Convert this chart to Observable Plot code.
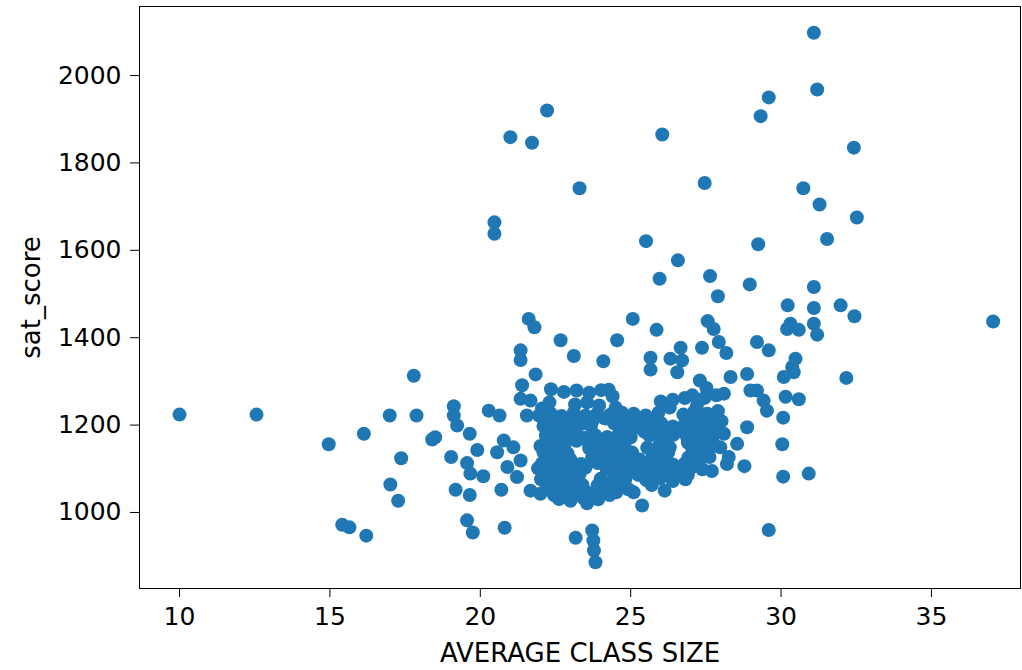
<!DOCTYPE html>
<html><head><meta charset="utf-8">
<script src="https://cdn.jsdelivr.net/npm/d3@7"></script>
<script src="https://cdn.jsdelivr.net/npm/@observablehq/plot@0.6"></script>
<style>body{margin:0;background:#fff}</style>
</head><body><div id="chart"></div><script>
// AVERAGE CLASS SIZE values
const classSize = [
 10.0, 12.56, 14.96, 15.41, 15.65, 16.21, 16.13, 16.99, 17.79, 17.88,
 17.37, 17.01, 17.27, 18.4, 18.5, 21.0, 21.72, 22.22, 20.47, 20.47,
 31.09, 31.2, 29.59, 29.32, 26.05, 32.42, 23.30, 27.46, 30.74, 31.28,
 32.52, 25.51, 29.24, 31.53, 26.57, 25.96, 27.64, 28.96, 31.09, 27.90,
 30.22, 31.09, 31.98, 32.44, 37.05, 30.31, 30.59, 30.2, 31.09, 31.2,
 30.48, 30.37, 30.42, 30.09, 32.17, 30.15, 30.59, 30.07, 30.04, 30.07,
 30.92, 29.59, 28.78, 25.38, 26.13, 25.1, 27.7, 28.2, 23.72, 23.17,
 23.76, 23.78, 23.83, 19.56, 19.75, 20.81, 19.18, 19.65, 20.7, 19.03,
 19.56, 19.67, 20.1, 19.9, 20.56, 23.55, 21.61, 21.8, 22.67, 23.11,
 24.09, 24.55, 21.34, 21.34, 21.84, 21.39, 21.34, 21.67, 21.55, 19.12,
 19.12, 19.23, 20.28, 20.64, 19.65, 24.27, 25.07, 25.86, 27.56, 27.76,
 27.93, 28.18, 27.37, 26.66, 26.32, 26.71, 26.55, 25.66, 25.66, 29.2,
 29.59, 28.87, 28.32, 27.3, 27.52, 28.87, 29.2, 29.42, 29.53, 28.1,
 28.54, 28.1, 28.98, 28.26, 20.78, 21.1, 21.34, 20.9, 21.22, 21.67,
 22.0, 27.98,
 22.35, 22.78, 23.2, 23.62, 24.02, 24.4,
 22.3, 23.15, 23.55, 23.95, 24.5, 22.05,
 26.0, 26.4, 26.8, 27.05, 27.45, 27.85, 27.2,
 21.95, 22.35, 22.7, 23.1, 23.5, 23.88, 24.3, 24.72, 25.1, 25.5, 25.92, 26.75, 27.1, 27.55, 27.9, 26.3,
 22.2, 22.55, 22.95, 23.35, 23.75, 24.15, 24.55, 24.95, 25.35, 25.75, 27.0, 27.4, 27.75,
 22.1, 22.52, 22.9, 23.32, 23.68, 24.45, 24.82, 25.2, 25.62, 26.02, 26.4, 26.8, 27.22, 27.6, 28.02,
 22.3, 22.75, 23.15, 24.65, 25.05, 25.45, 25.85, 26.25, 26.65, 27.05, 27.45, 27.85,
 22.18, 22.6, 23.02, 23.45, 23.82, 24.22, 24.6, 25.0, 25.62, 26.0, 26.42, 26.88, 27.3, 27.72,
 22.35, 22.8, 23.2, 23.6, 24.0, 24.4, 24.8, 26.2, 26.9, 27.25, 27.6,
 22.0, 22.42, 22.8, 23.62, 24.02, 24.4, 24.8, 25.55, 25.95, 26.3, 27.02, 27.42, 27.8,
 22.1, 22.5, 22.9, 23.85, 24.25, 24.65, 25.05, 25.85, 26.25, 27.15, 27.5,
 22.2, 22.62, 23.0, 23.72, 24.1, 24.5, 24.9, 25.3, 25.72, 26.12, 26.92, 27.3, 27.62,
 22.05, 22.45, 22.85, 23.35, 23.9, 24.35, 24.75, 25.15, 25.55, 25.95, 26.4, 26.8, 27.2,
 21.92, 22.3, 22.7, 23.1, 23.5, 24.2, 24.62, 25.02, 25.42, 25.82, 26.2, 26.6, 27.02, 27.38,
 22.15, 22.55, 22.95, 23.3, 24.45, 24.85, 25.25, 25.65, 26.05, 26.45, 26.9,
 22.02, 22.42, 22.8, 23.22, 24.0, 24.4, 24.82, 25.52, 25.98, 26.4, 26.82,
 22.2, 22.6, 23.0, 23.4, 23.9, 24.3, 24.7, 25.7,
 22.3, 22.7, 23.12, 23.5, 24.12, 24.52, 24.92,
 22.45, 22.85, 23.25, 23.7, 24.3,
 22.62, 23.0, 23.42, 23.92
];
// sat_score values (same order)
const satScore = [
 1224, 1224, 1156, 972, 966, 947, 1180, 1222, 1313, 1222,
 1124, 1064, 1027, 1167, 1172, 1859, 1846, 1920, 1664, 1638,
 2098, 1968, 1950, 1907, 1865, 1835, 1742, 1754, 1742, 1705,
 1675, 1621, 1614, 1626, 1577, 1535, 1541, 1522, 1516, 1495,
 1474, 1468, 1474, 1449, 1437, 1432, 1418, 1420, 1432, 1407,
 1352, 1333, 1321, 1310, 1308, 1265, 1259, 1217, 1156, 1082,
 1089, 960, 1106, 1016, 1050, 1046, 1095, 1111, 959, 942,
 936, 913, 886, 982, 954, 965, 1052, 1040, 1052, 1127,
 1113, 1089, 1083, 1143, 1138, 1021, 1443, 1424, 1394, 1358,
 1346, 1394, 1371, 1349, 1316, 1291, 1260, 1256, 1222, 1243,
 1222, 1199, 1233, 1222, 1180, 1281, 1443, 1418, 1438, 1420,
 1390, 1365, 1377, 1377, 1352, 1348, 1321, 1354, 1327, 1390,
 1371, 1317, 1310, 1302, 1285, 1195, 1279, 1256, 1233, 1180,
 1157, 1272, 1279, 1127, 1165, 1149, 1119, 1104, 1081, 1050,
 1043, 1149,
 1282, 1276, 1279, 1274, 1280, 1266,
 1252, 1247, 1252, 1245, 1240, 1238,
 1254, 1258, 1262, 1268, 1262, 1268, 1244,
 1222, 1226, 1221, 1228, 1222, 1226, 1223, 1228, 1226, 1222, 1228, 1224, 1230, 1226, 1232, 1240,
 1212, 1214, 1209, 1213, 1211, 1215, 1210, 1213, 1209, 1214, 1212, 1215, 1211,
 1198, 1203, 1196, 1202, 1198, 1204, 1198, 1203, 1199, 1204, 1197, 1202, 1198, 1205, 1209,
 1188, 1186, 1190, 1187, 1189, 1185, 1188, 1190, 1186, 1189, 1187, 1191,
 1176, 1172, 1178, 1171, 1177, 1173, 1179, 1172, 1176, 1170, 1178, 1172, 1176, 1171,
 1162, 1160, 1164, 1161, 1163, 1159, 1162, 1164, 1160, 1163, 1161,
 1152, 1148, 1153, 1147, 1152, 1146, 1151, 1148, 1154, 1149, 1151, 1146, 1153,
 1137, 1139, 1135, 1138, 1136, 1139, 1137, 1135, 1138, 1136, 1139,
 1124, 1128, 1121, 1126, 1122, 1128, 1124, 1121, 1127, 1123, 1126, 1121, 1127,
 1112, 1110, 1114, 1111, 1113, 1110, 1112, 1114, 1111, 1113, 1110, 1112, 1114,
 1101, 1097, 1102, 1098, 1103, 1099, 1102, 1097, 1101, 1096, 1102, 1098, 1103, 1099,
 1087, 1089, 1086, 1088, 1087, 1089, 1086, 1088, 1087, 1089, 1086,
 1076, 1072, 1078, 1073, 1077, 1071, 1076, 1074, 1078, 1072, 1076,
 1062, 1064, 1061, 1063, 1062, 1064, 1061, 1063,
 1052, 1047, 1053, 1048, 1051, 1046, 1053,
 1040, 1038, 1041, 1039, 1040,
 1031, 1027, 1033, 1030
];
const xTicks = [10, 15, 20, 25, 30, 35];
const yTicks = [1000, 1200, 1400, 1600, 1800, 2000];
const xLabel = "AVERAGE CLASS SIZE";
const yLabel = "sat_score";

const data = classSize.map((x, i) => ({x, y: satScore[i]}));

const chart = Plot.plot({
  width: 1022,
  height: 670,
  marginLeft: 139,
  marginRight: 2,
  marginTop: 6,
  marginBottom: 82,
  style: {fontFamily: "DejaVu Sans", color: "#000", background: "#fff"},
  x: {domain: [8.67, 37.96]},
  y: {domain: [826, 2158]},
  marks: [
    Plot.dot(data, {x: "x", y: "y", r: 7, fill: "#1f77b4", stroke: "none"}),
    Plot.frame({stroke: "#000", strokeWidth: 1}),
    Plot.axisX(xTicks, {tickSize: 9, tickPadding: 10, fontSize: 25, label: null, stroke: "#000", tickFormat: d => String(d)}),
    Plot.axisY(yTicks, {tickSize: 9, tickPadding: 9, fontSize: 25, label: null, stroke: "#000", tickFormat: d => String(d)}),
    Plot.text([xLabel], {frameAnchor: "bottom", dy: 65, fontSize: 26, fill: "#000", textAnchor: "middle", lineAnchor: "middle"}),
    Plot.text([yLabel], {frameAnchor: "left", dx: -108, rotate: -90, fontSize: 26, fill: "#000", textAnchor: "middle", lineAnchor: "middle"})
  ]
});
document.getElementById("chart").appendChild(chart);
</script></body></html>
